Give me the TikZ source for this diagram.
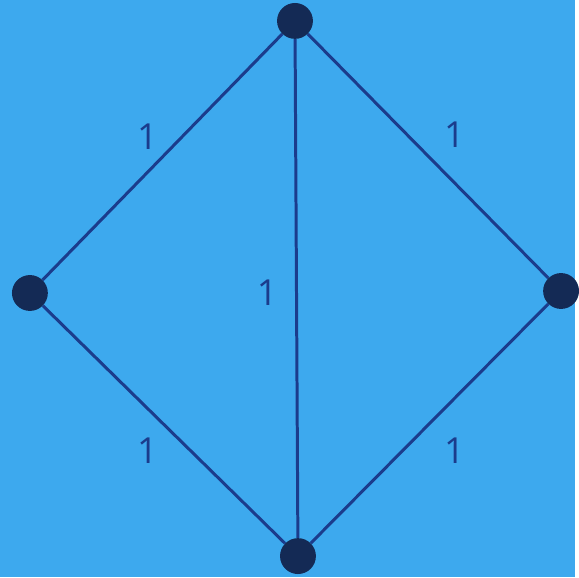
\documentclass[tikz,border=0pt]{standalone}
\usepackage{fontspec}
\setmainfont{Open Sans}
\definecolor{screen}{HTML}{3DA9EE}
\definecolor{edgeblue}{HTML}{1B3C8C}
\definecolor{dotblue}{HTML}{142A55}

\begin{document}
\begin{tikzpicture}[x=1pt,y=-1pt,
  vtx/.style={circle,fill=dotblue,inner sep=0pt,minimum size=36pt},
  wt/.style={text=edgeblue,font=\fontsize{36}{36}\selectfont,inner sep=0pt}]
\fill[screen] (0,0) rectangle (577,579);
\node[vtx] (t) at (296,21) {};
\node[vtx] (l) at (30,294) {};
\node[vtx] (r) at (563,292) {};
\node[vtx] (b) at (299,558) {};
\draw[line width=3pt,edgeblue] (t) -- (l);
\draw[line width=3pt,edgeblue] (t) -- (r);
\draw[line width=3pt,edgeblue] (t) -- (b);
\draw[line width=3pt,edgeblue] (l) -- (b);
\draw[line width=3pt,edgeblue] (r) -- (b);
\node[wt] (w1) at (148,137) {1};
\node[wt] (w2) at (456,135) {1};
\node[wt] (w3) at (268,294) {1};
\node[wt] (w4) at (148,452) {1};
\node[wt] (w5) at (456,452) {1};
\path (0,0) rectangle (577,579);
\end{tikzpicture}
\end{document}
